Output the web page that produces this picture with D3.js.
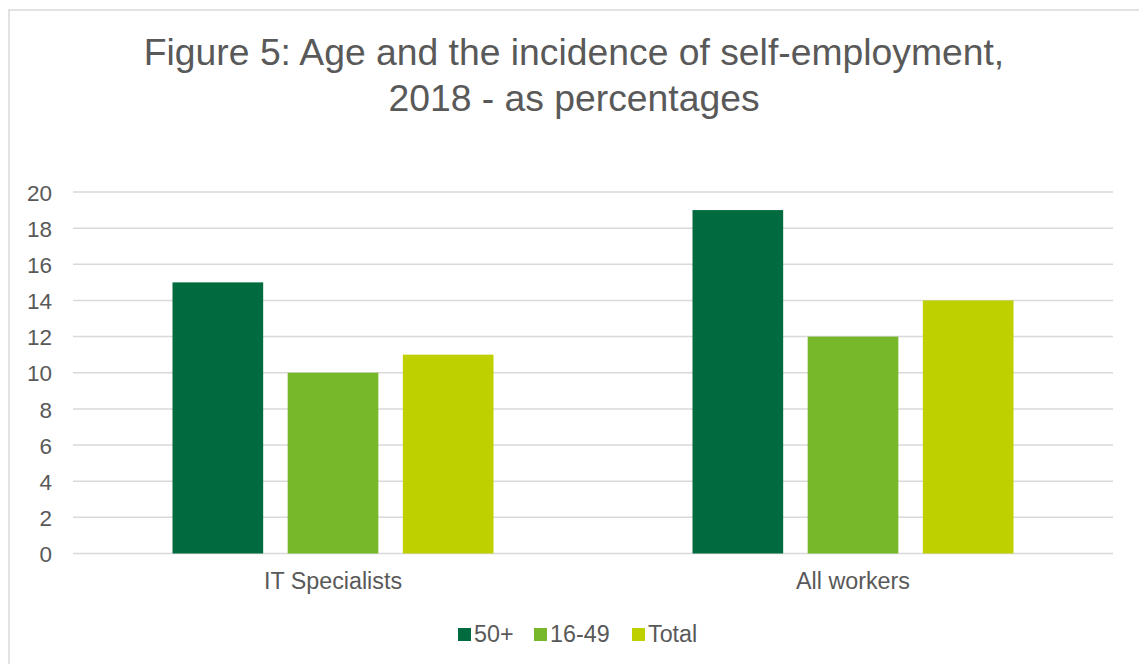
<!DOCTYPE html>
<html>
<head>
<meta charset="utf-8">
<script src="https://cdn.jsdelivr.net/npm/d3@7"></script>
<style>
  html, body { margin: 0; padding: 0; background: #fff; }
  svg { display: block; }
  text { font-family: "Liberation Sans", Arial, sans-serif; fill: #595959; }
</style>
</head>
<body>
<svg id="chart" width="1139" height="664"></svg>
<script>
// Self-employment incidence by age group, 2018 (%)
const categories = ["IT Specialists", "All workers"];
const seriesNames = ["50+", "16-49", "Total"];
const values50plus = [15, 19];
const values16to49 = [10, 12];
const valuesTotal = [11, 14];
const yTicks = [0, 2, 4, 6, 8, 10, 12, 14, 16, 18, 20];
const titleLines = ["Figure 5: Age and the incidence of self-employment,", "2018 - as percentages"];

const colors = ["#006B3F", "#77B82B", "#BED000"];
const seriesValues = [values50plus, values16to49, valuesTotal];

const svg = d3.select("#chart");
const W = 1139, H = 664;
const labelSize = 23.3;

// outer frame
svg.append("rect")
  .attr("x", 9).attr("y", 10)
  .attr("width", W + 20).attr("height", H + 20)
  .attr("fill", "#fff")
  .attr("stroke", "#d9d9d9").attr("stroke-width", 1.5);

// title
svg.append("g").selectAll("text")
  .data(titleLines)
  .join("text")
  .attr("x", 574)
  .attr("y", (d, i) => 65 + i * 46)
  .attr("text-anchor", "middle")
  .attr("font-size", 37.3)
  .text(d => d);

const plot = { left: 73, right: 1113, top: 192, bottom: 553.5 };

const x0 = d3.scaleBand().domain(categories).range([plot.left, plot.right]).padding(0);
const x1 = d3.scaleBand().domain(seriesNames)
  .range([99.5, 420.5]).paddingInner(0.2127).paddingOuter(0);
const y = d3.scaleLinear().domain([0, 20]).range([plot.bottom, plot.top]);

// gridlines
svg.append("g").selectAll("line")
  .data(yTicks)
  .join("line")
  .attr("x1", plot.left).attr("x2", plot.right)
  .attr("y1", d => y(d)).attr("y2", d => y(d))
  .attr("stroke", "#d9d9d9").attr("stroke-width", 1.5);

// y axis labels
const yAxis = d3.axisLeft(y).tickValues(yTicks).tickSize(0).tickPadding(0);
const yg = svg.append("g").attr("transform", "translate(52,0)").call(yAxis);
yg.select(".domain").remove();
yg.selectAll("text")
  .attr("font-size", 22.5)
  .attr("font-family", "Liberation Sans, Arial, sans-serif")
  .attr("fill", "#595959")
  .attr("dy", "0.36em");

// bars
const rows = categories.map((c, ci) => ({
  category: c,
  items: seriesNames.map((s, si) => ({ series: s, value: seriesValues[si][ci], color: colors[si] }))
}));

svg.append("g").selectAll("g")
  .data(rows)
  .join("g")
  .attr("transform", d => `translate(${x0(d.category)},0)`)
  .selectAll("rect")
  .data(d => d.items)
  .join("rect")
  .attr("x", d => x1(d.series))
  .attr("width", x1.bandwidth())
  .attr("y", d => y(d.value))
  .attr("height", d => y(0) - y(d.value))
  .attr("fill", d => d.color);

// category axis labels
const xAxis = d3.axisBottom(x0).tickSize(0).tickPadding(0);
const xg = svg.append("g").attr("transform", `translate(0,${plot.bottom})`).call(xAxis);
xg.select(".domain").remove();
xg.selectAll("text")
  .attr("font-size", labelSize)
  .attr("font-family", "Liberation Sans, Arial, sans-serif")
  .attr("fill", "#595959")
  .attr("dy", 0)
  .attr("y", 35);

// legend
const legendX = [458, 534, 632];
const legend = svg.append("g").selectAll("g")
  .data(seriesNames)
  .join("g")
  .attr("transform", (d, i) => `translate(${legendX[i]},628)`);
legend.append("rect")
  .attr("width", 13).attr("height", 13)
  .attr("fill", (d, i) => colors[i]);
legend.append("text")
  .attr("x", 16).attr("y", 13.5)
  .attr("font-size", labelSize)
  .text(d => d);
</script>
</body>
</html>
